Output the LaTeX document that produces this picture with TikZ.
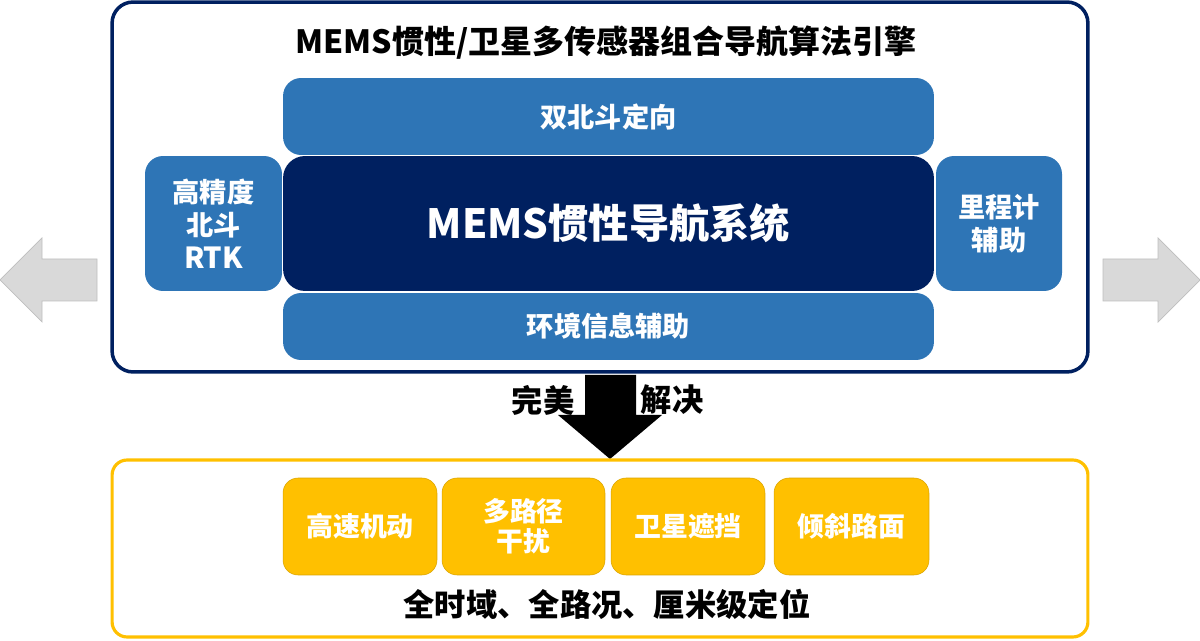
\documentclass[tikz,border=0pt]{standalone}
\usepackage{fontspec}
\setmainfont{Noto Sans CJK SC}
\usepackage{tikz}

\definecolor{navy}{RGB}{0,32,96}
\definecolor{midblue}{RGB}{46,117,182}
\definecolor{gold}{RGB}{255,192,0}
\definecolor{arrowgray}{RGB}{217,217,217}
\definecolor{arrowedge}{RGB}{191,191,191}

\begin{document}
\begin{tikzpicture}[x=0.02cm, y=-0.02cm,
    bluebox/.style={fill=midblue, rounded corners=0.36cm, text=white, align=center, inner sep=0pt,
        font=\bfseries\fontsize{15.5}{18.7}\selectfont},
    goldbox/.style={fill=gold, draw=gold!85!black, line width=0.3pt, rounded corners=0.3cm, text=white,
        align=center, inner sep=0pt, minimum height=1.94cm, font=\bfseries\fontsize{15.3}{17}\selectfont},
    frame/.style={rounded corners=0.42cm, line width=2pt, minimum width=19.52cm, inner sep=0pt},
    label/.style={font=\bfseries\fontsize{17.8}{20}\selectfont, inner sep=0pt}]
            \useasboundingbox (0,0) rectangle (1200,641);

            % upper frame
            \node (engine) at (600,187) [draw=navy, frame, minimum height=7.4cm] {};
            \node (title) at (606,43) [font=\bfseries\fontsize{18.2}{20}\selectfont, inner sep=0pt]
                {MEMS惯性/卫星多传感器组合导航算法引擎};

            \node (bdsdir) at (608.5,116.5) [bluebox, minimum width=13.02cm, minimum height=1.54cm] {双北斗定向};
            \node (ins) at (608.5,223.5) [bluebox, fill=navy, rounded corners=0.44cm, minimum width=13.02cm,
                minimum height=2.7cm, font=\bfseries\fontsize{22.9}{26}\selectfont] {MEMS惯性导航系统};
            \node (envaid) at (608.5,326.5) [bluebox, minimum width=13.02cm, minimum height=1.34cm] {环境信息辅助};
            \node (rtk) at (213.5,223.5) [bluebox, minimum width=2.74cm, minimum height=2.7cm]
                {高精度\\北斗\\{\fontsize{16.5}{18.7}\selectfont RTK}};
            \node (odo) at (999,223.5) [bluebox, minimum width=2.52cm, minimum height=2.7cm] {里程计\\辅助};

            % side arrows
            \draw[fill=arrowgray, draw=arrowedge, line width=0.4pt]
                (0,280) -- (42,238) -- (42,259) -- (97,259) -- (97,301) -- (42,301) -- (42,322) -- cycle;
            \draw[fill=arrowgray, draw=arrowedge, line width=0.4pt]
                (1200,280) -- (1158,238) -- (1158,259) -- (1103,259) -- (1103,301) -- (1158,301) -- (1158,322) -- cycle;

            % down arrow
            \fill (585,375) -- (636,375) -- (636,415) -- (662,415) -- (610,459) -- (558,415) -- (585,415) -- cycle;
            \node (perfect) at (543,400) [label] {完美};
            \node (solve) at (672,400) [label] {解决};

            % lower frame
            \node (result) at (600,548.5) [draw=gold, frame, line width=1.8pt, rounded corners=0.3cm,
                minimum height=3.54cm] {};
            \node (speed) at (360,526.5) [goldbox, minimum width=3.08cm] {高速机动};
            \node (multipath) at (523.5,526.5) [goldbox, minimum width=3.26cm] {多路径\\干扰};
            \node (block) at (688,526.5) [goldbox, minimum width=3.08cm] {卫星遮挡};
            \node (slope) at (851.5,526.5) [goldbox, minimum width=3.1cm] {倾斜路面};
            \node (goal) at (607,604) [label] {全时域、全路况、厘米级定位};
        \end{tikzpicture}
\end{document}
